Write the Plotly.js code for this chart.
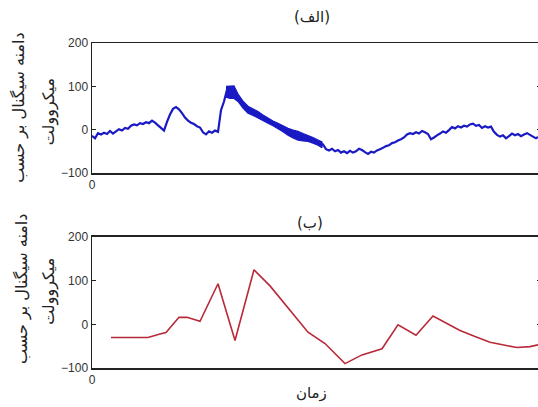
<!DOCTYPE html>
<html>
<head>
<meta charset="utf-8">
<script src="https://cdn.plot.ly/plotly-3.0.1.min.js"></script>
<style>
html,body{margin:0;padding:0;background:#fff;overflow:hidden;width:538px;height:407px;}
#chart{width:544px;height:407px;}
</style>
</head>
<body>
<div id="chart"></div>
<script>
// ---- data (time in samples, amplitude in microvolts) ----
var timeA = [
0,3,6,9,12,15,18,21,24,27,30,33,36,39,42,45,48,51,54,57,60,63,66,69,72,75,78,81,84,87,90,93,96,99,102,105,108,111,114,117,120,123,126,129,132,135,
138,142,146,151,156,161,166,171,176,181,186,191,196,201,206,211,216,221,226,
231,234,237,240,243,246,249,252,255,258,261,264,267,270,273,276,279,282,285,288,291,294,297,300,303,306,309,312,315,318,321,324,327,330,333,336,339,342,345,348,351,354,357,360,363,366,369,372,375,378,381,384,387,390,393,396,399,402,405,408,411,414,417,420,423,426,429,432,435,438,441,444,446
];
var ampA = [
-14,-20,-8,-11,-7,-10,-3,-9,-4,1,-2,4,2,9,12,10,15,13,17,15,21,16,10,4,-2,18,35,48,52,47,38,28,21,16,13,8,5,-6,-11,-4,-7,-2,-5,45,65,92,
88,88,74,58,46,40,35,27,20,14,9,2,-5,-10,-14,-18,-20,-25,-30,
-34,-45,-48,-44,-50,-47,-53,-50,-54,-49,-53,-50,-44,-47,-52,-56,-51,-53,-48,-45,-42,-38,-36,-31,-29,-25,-22,-18,-11,-8,-10,-6,-9,-3,-6,-10,-22,-18,-13,-9,-4,-7,-1,6,3,8,5,9,7,12,14,9,11,4,8,5,7,-5,-12,-16,-13,-20,-15,-9,-13,-10,-15,-11,-8,-12,-16,-20,-17
];
// thick noisy stretch of signal (a): upper and lower edges of the band
var bandTime  = [134,138,142,146,151,156,161,166,171,176,181,186,191,196,201,206,211,216,221,226,230];
var bandUpper = [100,101,101,82,66,54,48,42,34,26,20,15,9,3,-1,-4,-9,-13,-18,-24,-28];
var bandLower = [75,72,72,65,50,38,33,28,21,15,9,3,-5,-13,-19,-24,-26,-27,-31,-36,-42];

var timeB = [19,56,68,74,87,95,108,126,143,162,178,216,233,253,270,290,306,324,341,353,368,383,398,413,425,438,446];
var ampB  = [-30,-30,-22,-19,16,16,7,93,-37,125,88,-18,-44,-90,-70,-56,-1,-25,19,5,-14,-28,-41,-48,-53,-51,-47];

var yTicks = [-100, 0, 100, 200];
var xTicks = [0];
var xTickText = ['0'];
var titleA = '(الف)';
var titleB = '(ب)';
var xTitle = 'زمان';
var yTitle1 = 'دامنه سیگنال بر حسب';
var yTitle2 = 'میکروولت';

var blue = '#1a1ac4';
var red = '#b82a38';
var tickFont = {family: 'Liberation Sans, Arial, sans-serif', size: 12, color: '#333'};
var textFont = {family: 'DejaVu Sans, sans-serif', size: 15, color: '#222'};
var yTitleFont = {family: 'DejaVu Sans, sans-serif', size: 16, color: '#222'};

function xa(anchor){
  return {anchor: anchor, domain:[0,1], range:[0,449], showgrid:false, zeroline:false,
    showline:true, mirror:true, linecolor:'#222', linewidth:1.5,
    ticks:'', tickvals:xTicks, ticktext:xTickText, tickfont:tickFont};
}
function ya(anchor, dom){
  return {anchor: anchor, domain:dom, range:[-100,200], showgrid:false, zeroline:false,
    showline:true, mirror:'ticks', linecolor:'#222', linewidth:1.5,
    ticks:'inside', ticklen:4, tickcolor:'#222', tickvals:yTicks, tickfont:tickFont};
}

var bandX = bandTime.concat(bandTime.slice().reverse());
var bandY = bandUpper.concat(bandLower.slice().reverse());

var traces = [
  {x: bandX, y: bandY, type:'scatter', mode:'lines', xaxis:'x', yaxis:'y',
   fill:'toself', fillcolor:blue, line:{color:blue, width:1.2}, hoverinfo:'skip'},
  {x: timeA, y: ampA, type:'scatter', mode:'lines', xaxis:'x', yaxis:'y',
   line:{color:blue, width:2.2, simplify:false}, hoverinfo:'skip'},
  {x: timeB, y: ampB, type:'scatter', mode:'lines', xaxis:'x2', yaxis:'y2',
   line:{color:red, width:1.6}, hoverinfo:'skip'}
];

function ann(text, x, y, angle, font){
  return {text:text, xref:'paper', yref:'paper', x:x, y:y, xanchor:'center', yanchor:'middle',
    showarrow:false, textangle:angle||0, font:font||textFont};
}

var layout = {
  width:544, height:407,
  margin:{l:92, r:3, t:43, b:39},
  paper_bgcolor:'#fff', plot_bgcolor:'#fff',
  showlegend:false,
  xaxis: xa('y'), yaxis: ya('x',[0.6,1]),
  xaxis2: xa('y2'), yaxis2: ya('x2',[0,0.4031]),
  annotations:[
    ann(titleA, 0.49, 1.08),
    ann(titleB, 0.486, 0.446),
    ann(xTitle, 0.488, -0.077),
    ann(yTitle1, -0.163, 0.80, -90, yTitleFont),
    ann(yTitle2, -0.096, 0.79, -90, yTitleFont),
    ann(yTitle1, -0.156, 0.243, -90, yTitleFont),
    ann(yTitle2, -0.096, 0.237, -90, yTitleFont)
  ]
};

Plotly.newPlot('chart', traces, layout, {staticPlot:true, displayModeBar:false});
</script>
</body>
</html>
